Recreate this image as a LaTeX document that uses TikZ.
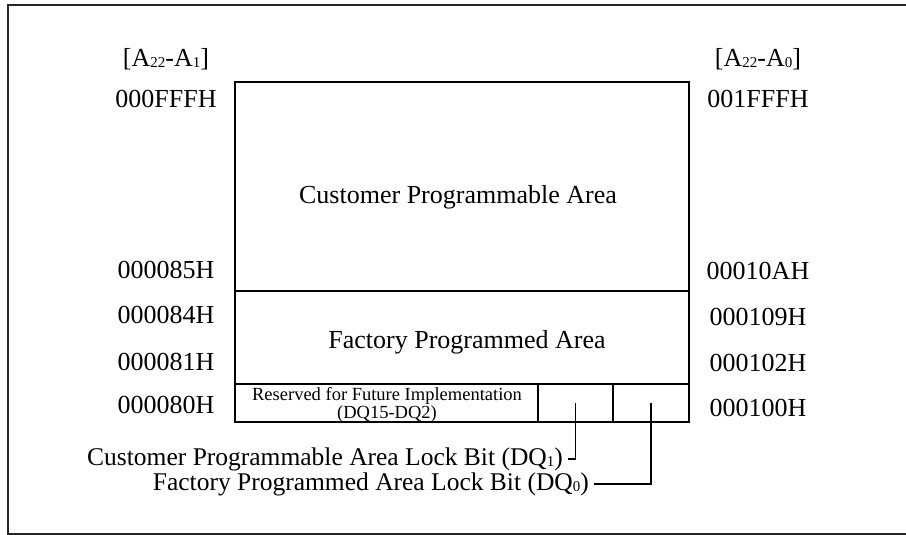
\documentclass[tikz,border=0pt]{standalone}
\usepackage{fontspec}
\setmainfont{Liberation Serif}
\newcommand*{\sbs}[1]{\raisebox{-1pt}{\fontsize{15}{15}\selectfont #1}}

\begin{document}
\begin{tikzpicture}[x=1pt,y=-1pt,
  every node/.style={font=\fontsize{26}{26}\selectfont},
  cell/.style={draw,line width=1.6pt,inner sep=0pt},
  addr/.style={anchor=base,inner sep=0pt},
  lockbit/.style={anchor=east,inner xsep=5pt,inner ysep=0pt,
    font=\fontsize{25.5}{25.5}\selectfont}]
  \useasboundingbox (0,0) rectangle (906,535);
  \clip (0,0) rectangle (906,535);
  \draw [line width=1.8pt,black!85] (8,5) rectangle (912,534);
  % memory map
  \node (cpa) [cell,minimum width=454pt,minimum height=209pt] at (462,186.5) {};
  \node (fpa) [cell,minimum width=454pt,minimum height=93pt] at (462,337.5) {};
  \node (rsv) [cell,minimum width=303pt,minimum height=38pt] at (386.5,403) {};
  \node (dq1) [cell,minimum width=75pt,minimum height=38pt] at (575.5,403) {};
  \node (dq0) [cell,minimum width=76pt,minimum height=38pt] at (651,403) {};
  \node (cpatext) [addr] at (458,203) {Customer Programmable Area};
  \node (fpatext) [addr] at (467,348) {Factory Programmed Area};
  \node (rsvtext) [inner sep=0pt,align=center,font=\fontsize{18.5}{14}\selectfont]
    at (387,405) {Reserved for Future Implementation\\(DQ15-DQ2)};
  % addresses
  \node (lhead) [addr] at (166,67) {[A\sbs{22}-A\sbs{1}]};
  \node (rhead) [addr] at (758,67) {[A\sbs{22}-A\sbs{0}]};
  \foreach \yl/\yr/\l/\r in {107/107/000FFFH/001FFFH,278/279/000085H/00010AH,
    323/325/000084H/000109H,370/371/000081H/000102H,413/416/000080H/000100H} {
    \node (l\l) [addr] at (166,\yl) {\l};
    \node (r\r) [addr] at (758,\yr) {\r};
  }
  % lock bits
  \node (lb1) [lockbit] at (568,459) {Customer Programmable Area Lock Bit (DQ\sbs{1})};
  \node (lb0) [lockbit] at (594,484) {Factory Programmed Area Lock Bit (DQ\sbs{0})};
  \draw [line width=1.5pt] (dq1.center) |- (lb1.east);
  \draw [line width=1.5pt] (dq0.center) |- (lb0.east);
\end{tikzpicture}
\end{document}
